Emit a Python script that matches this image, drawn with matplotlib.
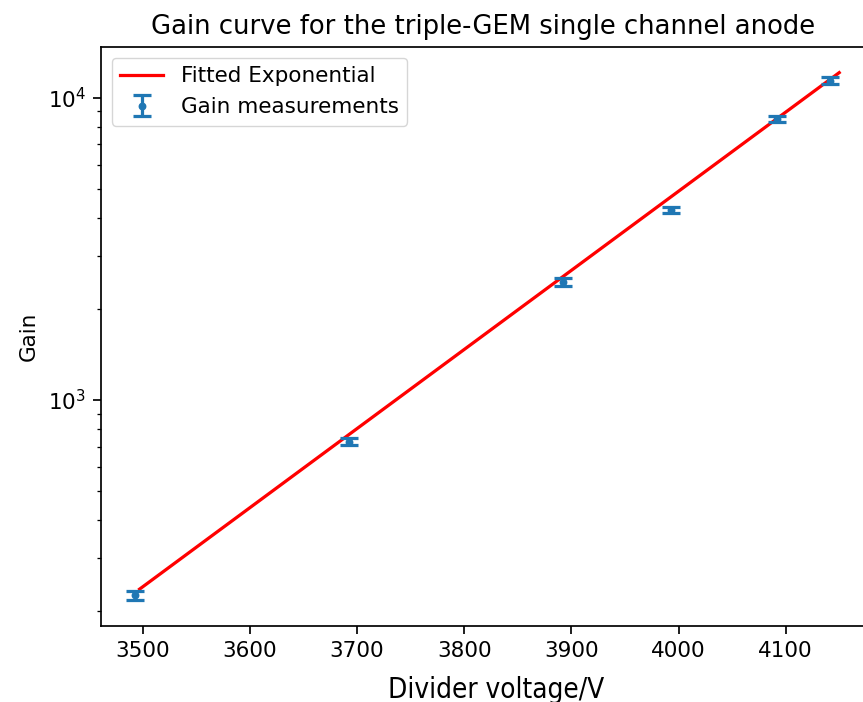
import numpy as np
import matplotlib
matplotlib.use("Agg")
import matplotlib.pyplot as plt

# Divider voltage settings (V) and measured gains
voltage = [3493, 3692, 3892, 3993, 4092, 4141]
gain = [226, 728, 2460, 4250, 8500, 11380]
gain_err = [7, 20, 70, 110, 220, 320]

# Exponential fit  G(V) = G0 * exp(b * (V - V0))
fit_rate = 0.006022          # b, 1/V
fit_gain_at_ref = 237.0      # G0
fit_ref_voltage = 3497.0     # V0
fit_v_start, fit_v_end = 3497.0, 4150.0

S = 1.55                     # overall size factor for fonts and line widths
W, H = 863, 702
fig = plt.figure(figsize=(W / 100, H / 100), dpi=100)

left, right, top, bottom = 101, 866, 47, 626
ax = fig.add_axes([left / W, (H - bottom) / H, (right - left) / W, (bottom - top) / H])

v_fit = np.linspace(fit_v_start, fit_v_end, 200)
g_fit = fit_gain_at_ref * np.exp(fit_rate * (v_fit - fit_ref_voltage))

ax.plot(v_fit, g_fit, color="red", lw=1.5 * S, label="Fitted Exponential")
ax.errorbar(voltage, gain, yerr=gain_err, fmt=".", color="#1f77b4",
            ms=6 * S, elinewidth=1.5 * S, capsize=4.2 * S, capthick=1.5 * S,
            label="Gain measurements")

ax.set_yscale("log")
ax.set_xlim(3461, 4175)
ax.set_ylim(179, 14700)
ax.set_xticks([3500, 3600, 3700, 3800, 3900, 4000, 4100])

fs = 10 * S
ax.tick_params(which="major", length=3.5 * S, width=0.8 * S, pad=3.5 * S, labelsize=fs)
ax.tick_params(which="minor", length=2 * S, width=0.6 * S)
for s in ax.spines.values():
    s.set_linewidth(0.8 * S)

ax.set_title("Gain curve for the triple-GEM single channel anode",
             fontsize=12 * S, pad=6 * S)
ax.set_ylabel("Gain", fontsize=fs, labelpad=4 * S)

ax.set_xlabel("Divider voltage/V", fontsize=20, fontstretch="condensed")
ax.xaxis.set_label_coords((496 - left) / (right - left), (bottom - 676) / (bottom - top))
ax.xaxis.label.set_va("top")

ax.legend(loc="upper left", fontsize=fs)

fig.savefig("out.png", dpi=100)
